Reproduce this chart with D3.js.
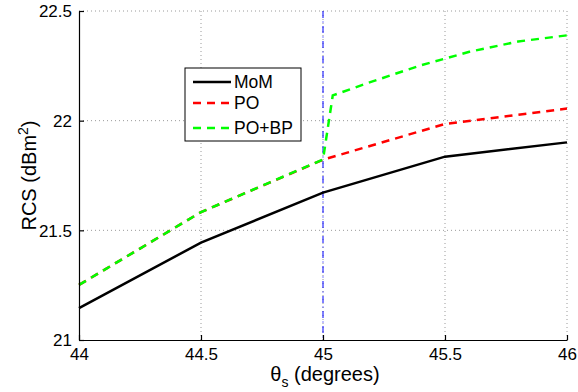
<!DOCTYPE html>
<html>
<head>
<meta charset="utf-8">
<script src="https://cdn.jsdelivr.net/npm/d3@7"></script>
<style>
  body { margin: 0; background: #fff; }
  svg { font-family: "Liberation Sans", Arial, sans-serif; }
</style>
</head>
<body>
<div id="chart"></div>
<script>
// data
const xTicks = [44, 44.5, 45, 45.5, 46];
const yTicks = [21, 21.5, 22, 22.5];
const xTickLabels = ["44", "44.5", "45", "45.5", "46"];
const yTickLabels = ["21", "21.5", "22", "22.5"];

const momTheta = [44, 44.5, 45, 45.5, 46];
const momRcs = [21.145, 21.444, 21.672, 21.836, 21.901];

const poTheta = [44, 44.5, 45, 45.5, 46];
const poRcs = [21.251, 21.583, 21.822, 21.985, 22.055];

const pobpTheta = [44, 44.5, 45, 45.04, 45.2, 45.4, 45.6, 45.8, 46];
const pobpRcs = [21.251, 21.583, 21.823, 22.115, 22.178, 22.252, 22.314, 22.361, 22.389];

const markerTheta = 45;

const seriesNames = ["MoM", "PO", "PO+BP"];

let width = 578, height = 392;
let margin = { top: 11, right: 11, bottom: 52, left: 79 };
let w = width - margin.left - margin.right,
  h = height - margin.top - margin.bottom;

let svg = d3.select('#chart').append('svg')
  .attr('width', width)
  .attr('height', height);

let g = svg.append('g')
  .attr('transform', 'translate(' + margin.left + ',' + margin.top + ')');

let x = d3.scaleLinear().domain([44, 46]).range([0, w]);
let y = d3.scaleLinear().domain([21, 22.5]).range([h, 0]);

// dotted grid
g.append('g').selectAll('line')
  .data(xTicks.slice(1))
  .enter().append('line')
  .attr('x1', d => x(d)).attr('x2', d => x(d))
  .attr('y1', 0).attr('y2', h)
  .attr('stroke', '#9a9a9a')
  .attr('stroke-width', 1)
  .attr('stroke-dasharray', '1,3');

g.append('g').selectAll('line')
  .data(yTicks.slice(1))
  .enter().append('line')
  .attr('x1', 0).attr('x2', w)
  .attr('y1', d => y(d)).attr('y2', d => y(d))
  .attr('stroke', '#9a9a9a')
  .attr('stroke-width', 1)
  .attr('stroke-dasharray', '1,3');

// blue dash-dot marker at 45 degrees
g.append('line')
  .attr('x1', x(markerTheta)).attr('x2', x(markerTheta))
  .attr('y1', 0).attr('y2', h)
  .attr('stroke', '#0000ff')
  .attr('stroke-width', 1)
  .attr('stroke-dasharray', '7,3.5,1,3.5');

// series
let line = d3.line().x(d => x(d[0])).y(d => y(d[1]));

g.append('path')
  .datum(d3.zip(momTheta, momRcs))
  .attr('d', line)
  .attr('fill', 'none')
  .attr('stroke', '#000')
  .attr('stroke-width', 2.5);

g.append('path')
  .datum(d3.zip(poTheta, poRcs))
  .attr('d', line)
  .attr('fill', 'none')
  .attr('stroke', '#ff0000')
  .attr('stroke-width', 2.5)
  .attr('stroke-dasharray', '8,6');

g.append('path')
  .datum(d3.zip(pobpTheta, pobpRcs))
  .attr('d', line)
  .attr('fill', 'none')
  .attr('stroke', '#00ff00')
  .attr('stroke-width', 2.5)
  .attr('stroke-dasharray', '8,6');

// axes (left and bottom only, ticks inward)
let xAxis = d3.axisBottom(x)
  .tickValues(xTicks)
  .tickFormat((d, i) => xTickLabels[i])
  .tickSizeInner(-5)
  .tickSizeOuter(0);

let yAxis = d3.axisLeft(y)
  .tickValues(yTicks)
  .tickFormat((d, i) => yTickLabels[i])
  .tickSizeInner(-5)
  .tickSizeOuter(0);

let gx = g.append('g')
  .attr('transform', 'translate(0,' + h + ')')
  .call(xAxis);

let gy = g.append('g')
  .call(yAxis);

[gx, gy].forEach(a => {
  a.attr('font-family', null).attr('font-size', null);
  a.selectAll('path, line').attr('stroke', '#000').attr('stroke-width', 1.2);
  a.selectAll('text').attr('fill', '#000').style('font-size', '17px');
});
gy.selectAll('text').attr('x', -7).attr('dy', '0.35em');
gx.selectAll('text').attr('y', 20).attr('dy', 0);

// axis titles
let xt = svg.append('text')
  .attr('x', margin.left + x(45) + 2)
  .attr('y', 381)
  .attr('text-anchor', 'middle')
  .style('font-size', '20px');
xt.append('tspan').text('θ');
xt.append('tspan').attr('dy', 6).style('font-size', '14px').text('s');
xt.append('tspan').attr('dy', -6).text(' (degrees)');

let yt = svg.append('text')
  .attr('transform', 'translate(36,' + (margin.top + h / 2) + ') rotate(-90)')
  .attr('text-anchor', 'middle')
  .style('font-size', '20px');
yt.append('tspan').text('RCS (dBm');
yt.append('tspan').attr('dy', -8).style('font-size', '14px').text('2');
yt.append('tspan').attr('dy', 8).text(')');

// legend
let lg = svg.append('g').attr('transform', 'translate(185,68)');
lg.append('rect')
  .attr('width', 116).attr('height', 73)
  .attr('fill', '#fff')
  .attr('stroke', '#000')
  .attr('stroke-width', 1);

let legendStyles = [
  { color: '#000', dash: null },
  { color: '#ff0000', dash: '8,6' },
  { color: '#00ff00', dash: '8,6' }
];
let rowY = [14, 35, 60];

seriesNames.forEach((name, i) => {
  lg.append('line')
    .attr('x1', 8).attr('x2', 46)
    .attr('y1', rowY[i]).attr('y2', rowY[i])
    .attr('stroke', legendStyles[i].color)
    .attr('stroke-width', 2.5)
    .attr('stroke-dasharray', legendStyles[i].dash);
  lg.append('text')
    .attr('x', 49)
    .attr('y', rowY[i] + 6)
    .style('font-size', '17.5px')
    .text(name);
});
</script>
</body>
</html>
